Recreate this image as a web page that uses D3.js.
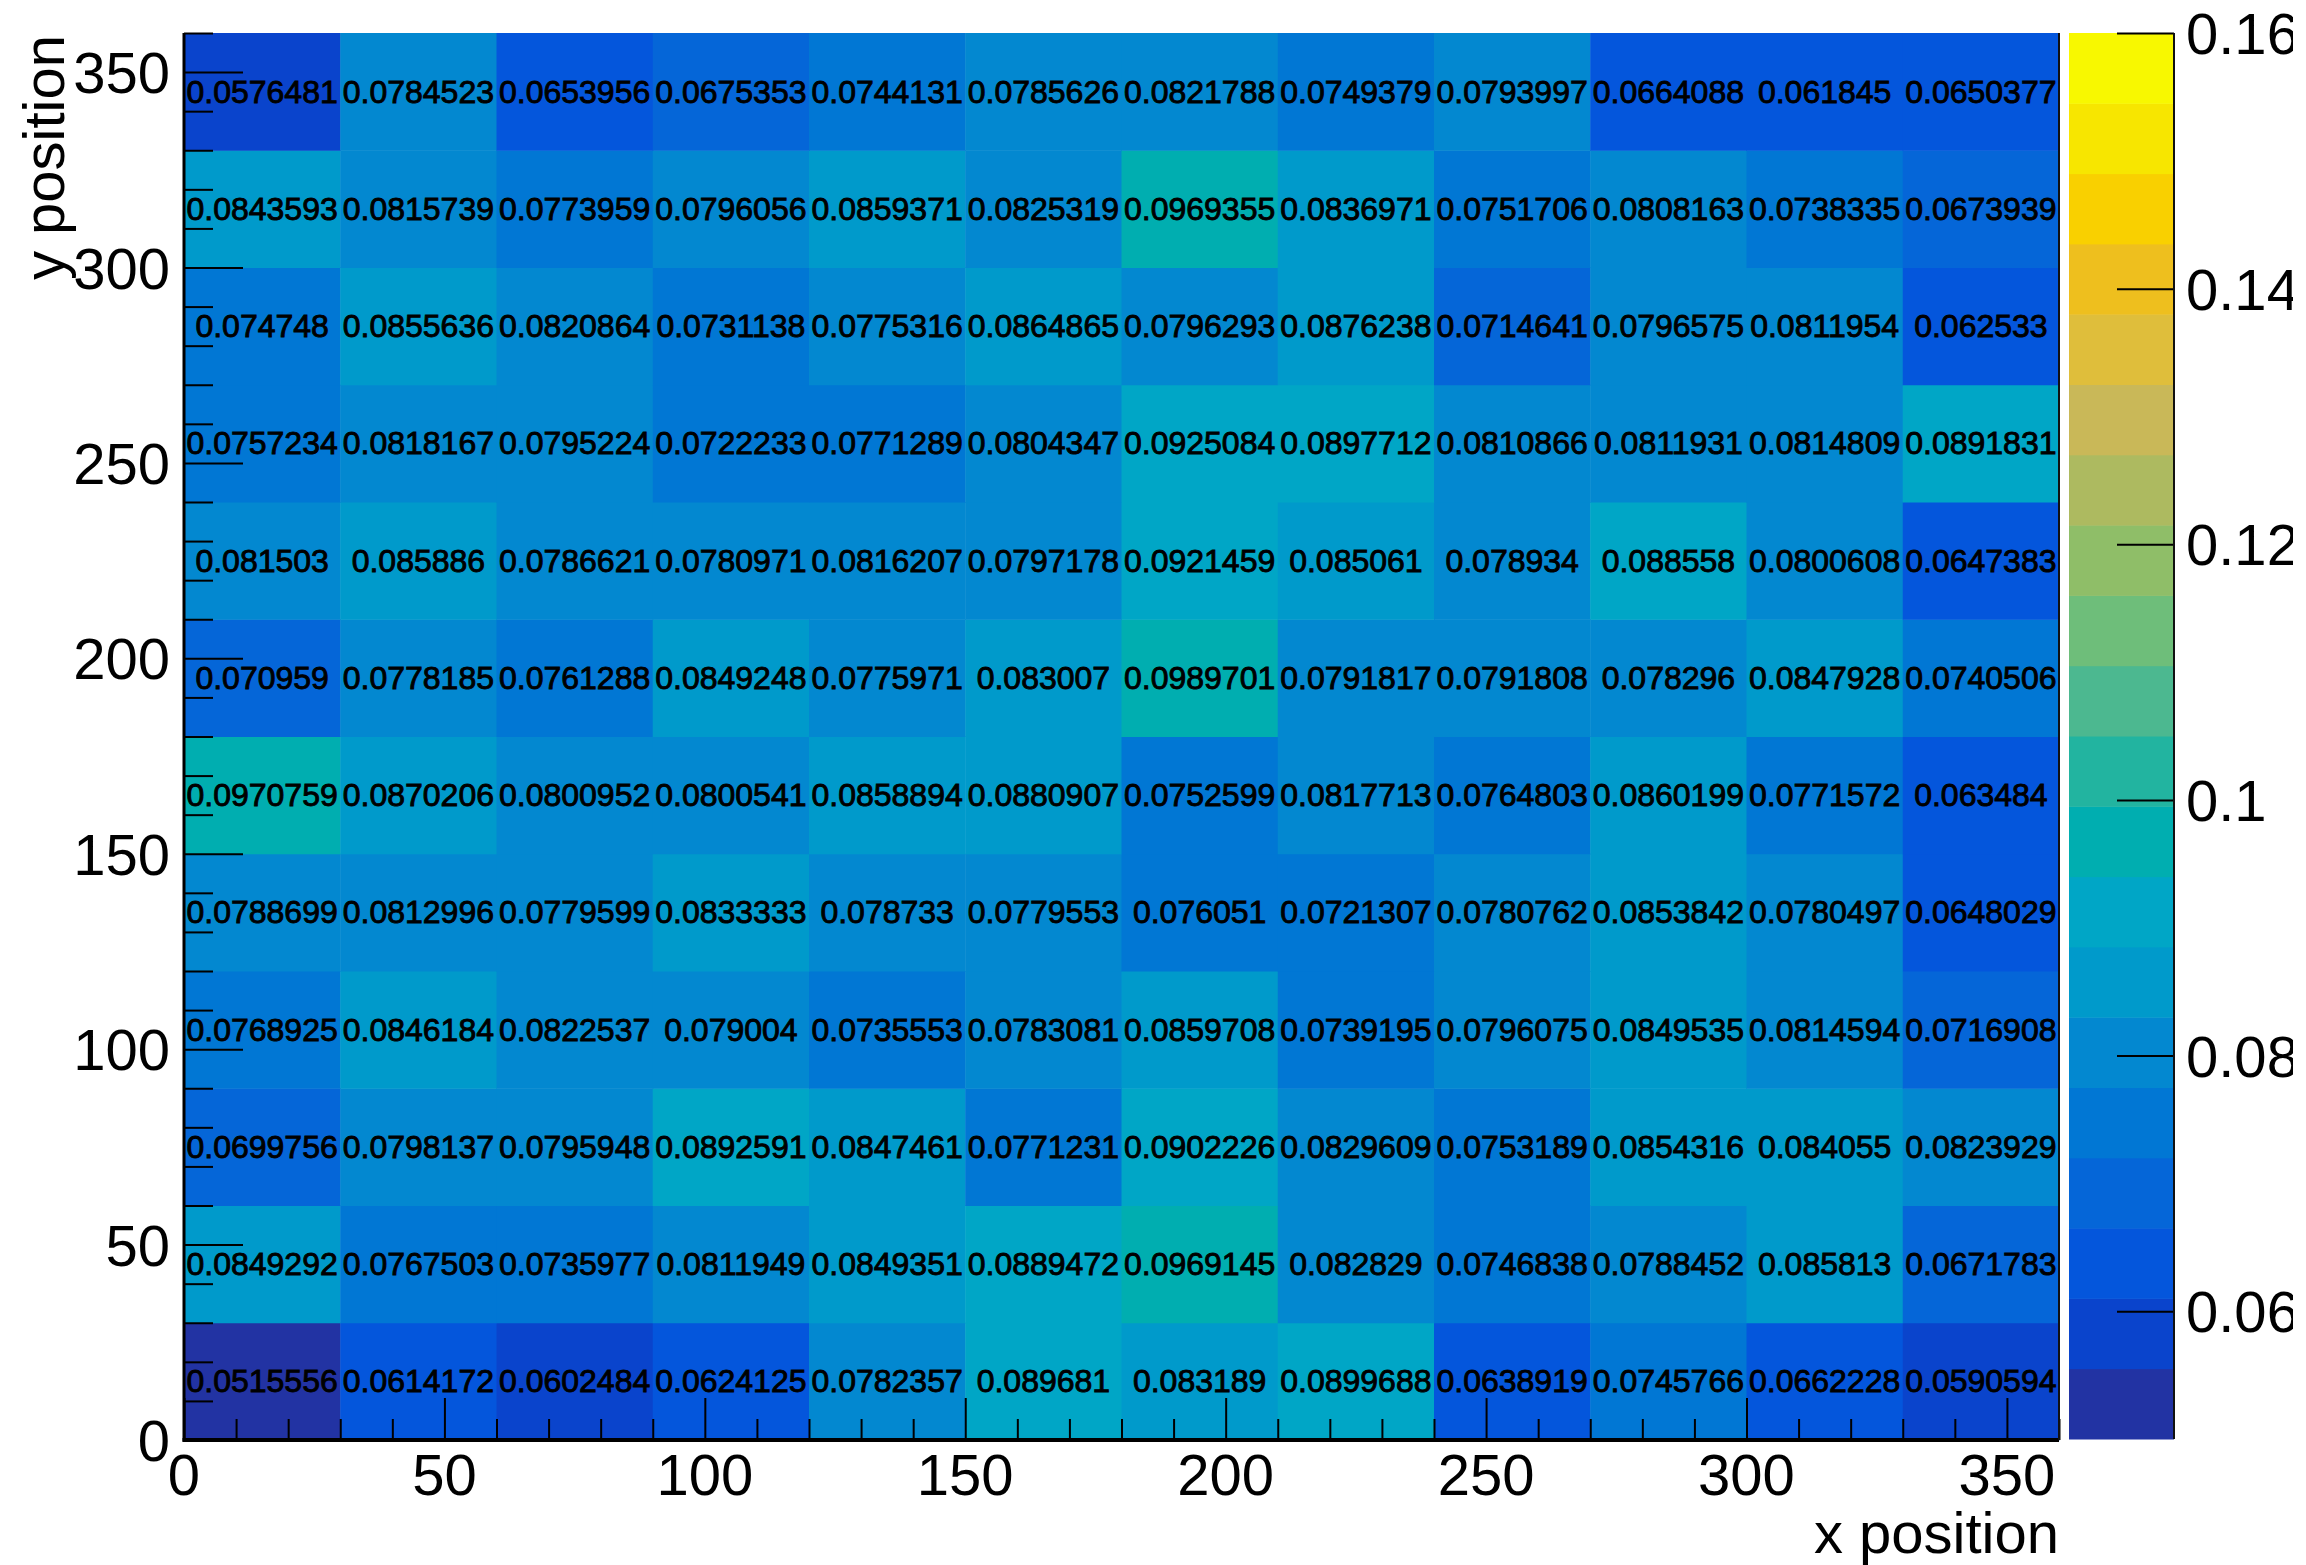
<!DOCTYPE html>
<html>
<head>
<meta charset="utf-8">
<script src="https://cdn.jsdelivr.net/npm/d3@7/dist/d3.min.js"></script>
<style>
html,body{margin:0;padding:0;background:#fff;}
svg{display:block;}
text{font-family:"Liberation Sans",Arial,Helvetica,sans-serif;}
</style>
</head>
<body>
<svg id="chart" width="2306" height="1565"></svg>
<script>
// ---- data ----
const xBinLow = [0,30,60,90,120,150,180,210,240,270,300,330];
const yBinLow = [0,30,60,90,120,150,180,210,240,270,300,330];
const binWidth = 30;
// rows listed from bottom (y=0..30) to top (y=330..360), 12 x-bins each
const row_y0   = [0.0515556,0.0614172,0.0602484,0.0624125,0.0782357,0.089681,0.083189,0.0899688,0.0638919,0.0745766,0.0662228,0.0590594];
const row_y30  = [0.0849292,0.0767503,0.0735977,0.0811949,0.0849351,0.0889472,0.0969145,0.082829,0.0746838,0.0788452,0.085813,0.0671783];
const row_y60  = [0.0699756,0.0798137,0.0795948,0.0892591,0.0847461,0.0771231,0.0902226,0.0829609,0.0753189,0.0854316,0.084055,0.0823929];
const row_y90  = [0.0768925,0.0846184,0.0822537,0.079004,0.0735553,0.0783081,0.0859708,0.0739195,0.0796075,0.0849535,0.0814594,0.0716908];
const row_y120 = [0.0788699,0.0812996,0.0779599,0.0833333,0.078733,0.0779553,0.076051,0.0721307,0.0780762,0.0853842,0.0780497,0.0648029];
const row_y150 = [0.0970759,0.0870206,0.0800952,0.0800541,0.0858894,0.0880907,0.0752599,0.0817713,0.0764803,0.0860199,0.0771572,0.063484];
const row_y180 = [0.070959,0.0778185,0.0761288,0.0849248,0.0775971,0.083007,0.0989701,0.0791817,0.0791808,0.078296,0.0847928,0.0740506];
const row_y210 = [0.081503,0.085886,0.0786621,0.0780971,0.0816207,0.0797178,0.0921459,0.085061,0.078934,0.088558,0.0800608,0.0647383];
const row_y240 = [0.0757234,0.0818167,0.0795224,0.0722233,0.0771289,0.0804347,0.0925084,0.0897712,0.0810866,0.0811931,0.0814809,0.0891831];
const row_y270 = [0.074748,0.0855636,0.0820864,0.0731138,0.0775316,0.0864865,0.0796293,0.0876238,0.0714641,0.0796575,0.0811954,0.062533];
const row_y300 = [0.0843593,0.0815739,0.0773959,0.0796056,0.0859371,0.0825319,0.0969355,0.0836971,0.0751706,0.0808163,0.0738335,0.0673939];
const row_y330 = [0.0576481,0.0784523,0.0653956,0.0675353,0.0744131,0.0785626,0.0821788,0.0749379,0.0793997,0.0664088,0.061845,0.0650377];
const rows = [row_y0,row_y30,row_y60,row_y90,row_y120,row_y150,row_y180,row_y210,row_y240,row_y270,row_y300,row_y330];

const xTicks = [0,50,100,150,200,250,300,350];
const yTicks = [0,50,100,150,200,250,300,350];
const zTicks = [0.06,0.08,0.10,0.12,0.14,0.16];
const zTickLabels = ["0.06","0.08","0.1","0.12","0.14","0.16"];
const zRange = [0.05, 0.16];
const nLevels = 20;
const xTitle = "x position";
const yTitle = "y position";

// ---- style ----
const palette = ["#2233a3","#0a44cc","#0456dc","#0566d8","#0177d4","#0388d0","#009acb","#00a6c6",
                 "#00aeb0","#22b4a0","#4cb890","#6ebe7a","#8fbe68","#adba60","#c9b858","#dfbe3b",
                 "#eebf1e","#f9d000","#f7e600","#f8f800"];

const L = 184, R = 2059, T = 33, B = 1440;
const svg = d3.select("#chart");

const x = d3.scaleLinear().domain([0,360]).range([L,R]);
const y = d3.scaleLinear().domain([0,360]).range([B,T]);
const z = d3.scaleLinear().domain(zRange).range([1439,33]);
const dz = (zRange[1]-zRange[0])/nLevels;
const levelColor = v => {
  let i = Math.floor((v - zRange[0]) / dz);
  i = Math.max(0, Math.min(nLevels-1, i));
  return palette[i];
};
const fmt = v => {
  let s = v.toPrecision(6);
  if (s.indexOf('.')>=0) s = s.replace(/0+$/,'').replace(/\.$/,'');
  return s;
};

// cells
const cells = [];
rows.forEach((row, j) => row.forEach((v, i) => cells.push({x0:xBinLow[i], y0:yBinLow[j], v})));

svg.append("g").selectAll("rect").data(cells).join("rect")
  .attr("x", d => x(d.x0))
  .attr("y", d => y(d.y0 + binWidth))
  .attr("width", d => x(d.x0 + binWidth) - x(d.x0) + 0.5)
  .attr("height", d => y(d.y0) - y(d.y0 + binWidth) + 0.5)
  .attr("fill", d => levelColor(d.v));

// axes ticks (ROOT style: inward)
const minorVals = d3.range(0, 361, 10).filter(v => v % 50 !== 0);
function styleAxis(g){ g.select(".domain").remove(); g.selectAll(".tick line").attr("stroke","#000").attr("stroke-width",2); }

svg.append("g").attr("transform",`translate(0,${B})`)
  .call(d3.axisBottom(x).tickValues(xTicks).tickSize(-42).tickFormat(""))
  .call(styleAxis);
svg.append("g").attr("transform",`translate(0,${B})`)
  .call(d3.axisBottom(x).tickValues(minorVals).tickSize(-21).tickFormat(""))
  .call(styleAxis);
svg.append("g").attr("transform",`translate(${L},0)`)
  .call(d3.axisLeft(y).tickValues(yTicks).tickSize(-59).tickFormat(""))
  .call(styleAxis);
svg.append("g").attr("transform",`translate(${L},0)`)
  .call(d3.axisLeft(y).tickValues(minorVals).tickSize(-29).tickFormat(""))
  .call(styleAxis);

// axis lines
svg.append("line").attr("x1",L).attr("x2",L).attr("y1",T).attr("y2",B+1.5).attr("stroke","#000").attr("stroke-width",3);
svg.append("line").attr("x1",L-1.5).attr("x2",R).attr("y1",B).attr("y2",B).attr("stroke","#000").attr("stroke-width",4);
svg.append("line").attr("x1",R).attr("x2",R).attr("y1",T).attr("y2",B).attr("stroke","#111").attr("stroke-width",2);

// cell texts
svg.append("g").selectAll("text").data(cells).join("text")
  .attr("x", d => x(d.x0 + binWidth/2))
  .attr("y", d => y(d.y0 + binWidth/2) + 11)
  .attr("text-anchor","middle")
  .attr("font-size", 32)
  .attr("fill","#000")
  .attr("stroke","#000").attr("stroke-width",0.9)
  .text(d => fmt(d.v));

// tick labels
svg.append("g").selectAll("text").data(xTicks).join("text")
  .attr("x", d => x(d)).attr("y", 1495)
  .attr("text-anchor","middle").attr("font-size",58).text(d => d);
svg.append("g").selectAll("text").data(yTicks).join("text")
  .attr("x", 170).attr("y", d => y(d) + 21)
  .attr("text-anchor","end").attr("font-size",58).text(d => d);

// titles
svg.append("text").attr("x", R).attr("y", 1553).attr("text-anchor","end")
  .attr("font-size",58).text(xTitle);
svg.append("text").attr("transform",`translate(64,${T+2}) rotate(-90)`)
  .attr("text-anchor","end").attr("font-size",58).text(yTitle);

// color bar
const CL = 2069, CR = 2174;
const levels = d3.range(nLevels).map(i => zRange[0] + i*dz);
svg.append("g").selectAll("rect").data(levels).join("rect")
  .attr("x", CL).attr("width", CR-CL)
  .attr("y", d => z(d + dz))
  .attr("height", d => z(d) - z(d + dz) + 0.5)
  .attr("fill", (d,i) => palette[i]);

svg.append("g").attr("transform",`translate(${CR},0)`)
  .call(d3.axisRight(z).tickValues(zTicks).tickSize(-57).tickFormat(""))
  .call(styleAxis);
svg.append("line").attr("x1",CR).attr("x2",CR).attr("y1",33).attr("y2",1439).attr("stroke","#111").attr("stroke-width",2);

svg.append("clipPath").attr("id","zclip").append("rect").attr("x",2180).attr("y",0).attr("width",113).attr("height",1565);
svg.append("g").attr("clip-path","url(#zclip)").selectAll("text").data(zTicks).join("text")
  .attr("x", 2186).attr("y", d => z(d) + 21)
  .attr("font-size",58)
  .text((d,i) => zTickLabels[i]);
</script>
</body>
</html>
